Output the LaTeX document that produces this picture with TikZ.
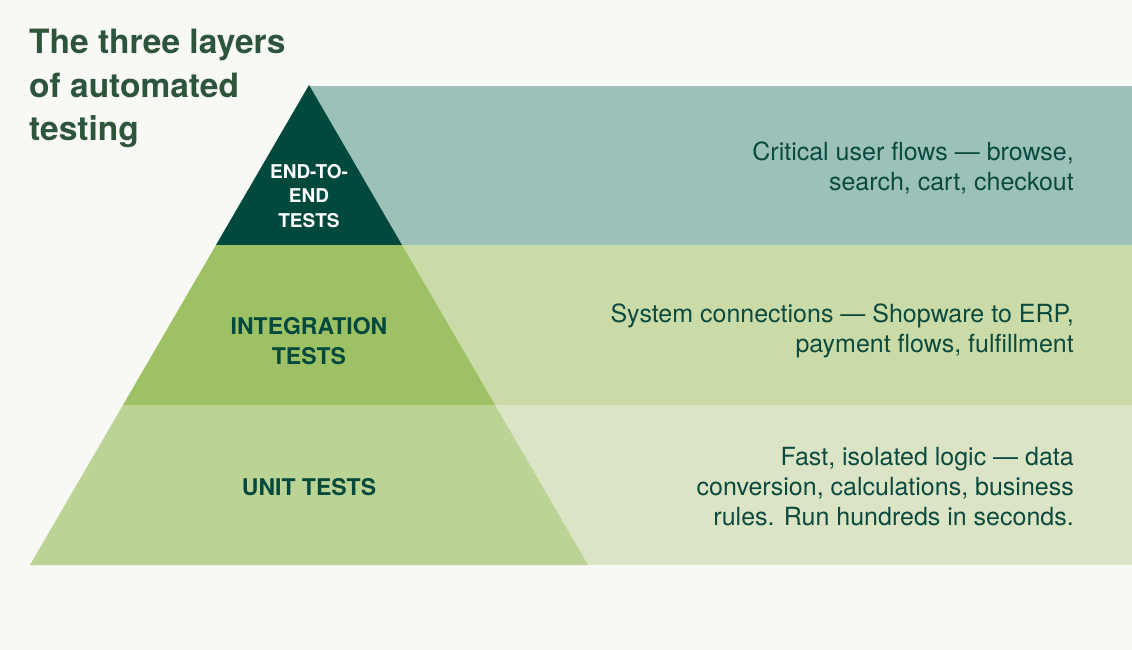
\documentclass[tikz,border=0pt]{standalone}
\usepackage{fontspec}
\setmainfont{TeX Gyre Heros}
\definecolor{bg}{HTML}{F8F9F4}
\definecolor{darkgreen}{HTML}{02493D}
\definecolor{tealrect}{HTML}{9BC1B9}
\definecolor{midtrap}{HTML}{9EC165}
\definecolor{midrect}{HTML}{CBDBA8}
\definecolor{bottrap}{HTML}{BBD395}
\definecolor{botrect}{HTML}{DBE4C4}
\definecolor{titlecol}{HTML}{2D553B}
\definecolor{textcol}{HTML}{0B4A3E}
\begin{document}
\begin{tikzpicture}[x=1pt,y=-1pt,
  titletext/.style={anchor=base west,inner sep=0pt,align=left,text=titlecol,
    font=\fontsize{33.5}{43}\selectfont\bfseries},
  desc/.style={anchor=base east,inner sep=0pt,align=right,text=textcol,
    font=\fontsize{25}{30}\selectfont},
  layerlabel/.style={anchor=base,inner sep=0pt,align=center,
    font=\fontsize{23}{30}\selectfont\bfseries}]
\fill[bg] (0,0) rectangle (1132,650);
\useasboundingbox (0,0) rectangle (1132,650);
% bands
\fill[tealrect] (309,86) rectangle (1132,245);
\fill[midrect] (309,245) rectangle (1132,405);
\fill[botrect] (309,405) rectangle (1132,565);
% pyramid
\fill[darkgreen] (309,85) -- (402,245) -- (216,245) -- cycle;
\fill[midtrap] (216,245) -- (402,245) -- (495,405) -- (123,405) -- cycle;
\fill[bottrap] (123,405) -- (495,405) -- (588,565) -- (30,565) -- cycle;
% title
\node[titletext] (title) at (29,140) {The three layers\\of automated\\testing};
% layer labels
\node[layerlabel,text=white,font=\fontsize{19}{24.5}\selectfont\bfseries] (e2e) at (309,227) {END-TO-\\END\\TESTS};
\node[layerlabel,text=darkgreen] (integ) at (309,364) {INTEGRATION\\TESTS};
\node[layerlabel,text=darkgreen] (unit) at (309,495) {UNIT TESTS};
% descriptions
\node[desc] (d1) at (1074,190) {Critical user flows — browse,\\search, cart, checkout};
\node[desc] (d2) at (1074,352) {System connections — Shopware to ERP,\\payment flows, fulfillment};
\node[desc] (d3) at (1074,525) {Fast, isolated logic — data\\conversion, calculations, business\\rules. Run hundreds in seconds.};
\end{tikzpicture}
\end{document}
